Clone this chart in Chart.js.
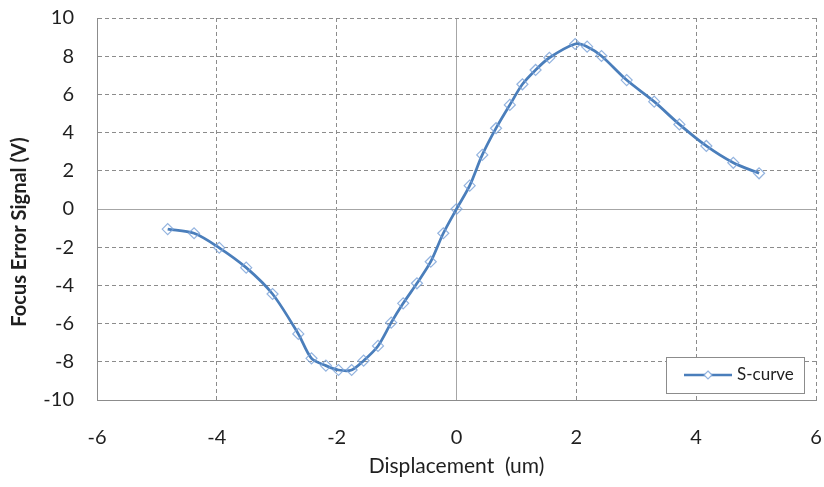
<!DOCTYPE html>
<html lang="en">
    <head>
        <meta charset="UTF-8" />
        <title>S-curve</title>
        <script src="https://cdn.jsdelivr.net/npm/chart.js"></script>
        <style>
            html, body { margin: 0; padding: 0; background: #fff; }
            #wrap { width: 824px; height: 487px; }
        </style>
    </head>
    <body>
        <div id="wrap"><canvas id="sCurveChart"></canvas></div>
        <script>
            // displacement (um) and focus error signal (V)
            const displacement = [-4.82, -4.38, -3.96, -3.51, -3.07, -2.64, -2.42, -2.18, -1.97, -1.75,
                -1.55, -1.31, -1.09, -0.89, -0.66, -0.43, -0.22, 0, 0.22, 0.43,
                0.66, 0.89, 1.1, 1.32, 1.55, 1.98, 2.18, 2.42, 2.84, 3.3,
                3.72, 4.17, 4.62, 5.05];
            const focusError = [-1.05, -1.27, -2.03, -3.07, -4.45, -6.54, -7.82, -8.2, -8.43, -8.43,
                -7.94, -7.17, -5.95, -4.94, -3.89, -2.76, -1.27, 0, 1.22, 2.83,
                4.23, 5.45, 6.53, 7.28, 7.92, 8.64, 8.5, 8.01, 6.75, 5.62,
                4.43, 3.3, 2.42, 1.87];
            const seriesName = "S-curve";
            const xTitle = "Displacement  (um)";
            const yTitle = "Focus Error Signal (V)";

            const lineColor = "#4a7ebb";
            const markerColor = "rgba(120,160,215,0.8)";
            const textColor = "#1f1f1f";
            const fontFamily = "Lato, 'Open Sans', sans-serif";

            // legend box inside the plot (bottom right) and the bold y title,
            // which sits a bit below the middle of the axis like in the original
            const extras = {
                id: "extras",
                afterDraw(chart) {
                    const { ctx, chartArea } = chart;
                    ctx.save();
                    ctx.translate(20, (chartArea.top + chartArea.bottom) / 2 + 23);
                    ctx.rotate(-Math.PI / 2);
                    ctx.fillStyle = textColor;
                    ctx.font = "bold 20px " + fontFamily;
                    ctx.textAlign = "center";
                    ctx.textBaseline = "middle";
                    ctx.fillText(yTitle, 0, 0);
                    ctx.restore();

                    const w = 138, h = 36;
                    const x = chartArea.right - 12 - w;
                    const y = chartArea.bottom - 7 - h;
                    ctx.save();
                    ctx.fillStyle = "#fff";
                    ctx.fillRect(x, y, w, h);
                    ctx.strokeStyle = "#8c8c8c";
                    ctx.lineWidth = 1;
                    ctx.strokeRect(x + 0.5, y + 0.5, w, h);
                    const cy = y + h / 2;
                    ctx.strokeStyle = lineColor;
                    ctx.lineWidth = 2.5;
                    ctx.beginPath();
                    ctx.moveTo(x + 18, cy);
                    ctx.lineTo(x + 66, cy);
                    ctx.stroke();
                    ctx.strokeStyle = markerColor;
                    ctx.lineWidth = 1.2;
                    ctx.beginPath();
                    ctx.moveTo(x + 42, cy - 4);
                    ctx.lineTo(x + 46, cy);
                    ctx.lineTo(x + 42, cy + 4);
                    ctx.lineTo(x + 38, cy);
                    ctx.closePath();
                    ctx.fillStyle = "#fff";
                    ctx.fill();
                    ctx.stroke();
                    ctx.fillStyle = textColor;
                    ctx.font = "17px " + fontFamily;
                    ctx.textAlign = "left";
                    ctx.textBaseline = "middle";
                    ctx.fillText(seriesName, x + 71, cy);
                    ctx.restore();
                },
            };

            const gridDash = (c) => (c.tick && c.tick.value === 0 ? [] : [4, 3]);
            const gridColor = (c) => (c.tick && c.tick.value === 0 ? "#a6a6a6" : "#8c8c8c");

            new Chart(document.getElementById("sCurveChart"), {
                type: "line",
                data: {
                    datasets: [
                        {
                            label: seriesName,
                            data: displacement.map((d, i) => ({ x: d, y: focusError[i] })),
                            borderColor: lineColor,
                            borderWidth: 2.75,
                            tension: 0.3,
                            pointStyle: "rectRot",
                            pointRadius: 5.5,
                            pointBorderWidth: 1.2,
                            pointBorderColor: markerColor,
                            pointBackgroundColor: "rgba(255,255,255,0)",
                            fill: false,
                        },
                    ],
                },
                options: {
                    responsive: true,
                    maintainAspectRatio: false,
                    animation: false,
                    layout: { padding: { top: 18, right: 8, left: 0, bottom: 0 } },
                    plugins: {
                        legend: { display: false },
                        tooltip: { enabled: false },
                    },
                    scales: {
                        x: {
                            type: "linear",
                            min: -6,
                            max: 6,
                            ticks: {
                                stepSize: 2,
                                padding: 26,
                                color: textColor,
                                font: { family: fontFamily, size: 20 },
                            },
                            grid: { color: gridColor, drawTicks: false },
                            border: { dash: gridDash, color: "#8c8c8c" },
                            title: {
                                display: true,
                                text: xTitle,
                                color: textColor,
                                font: { family: fontFamily, size: 21 },
                                padding: { top: 4, bottom: 8 },
                            },
                            afterFit: (s) => {
                                s.height = 87;
                                s.paddingLeft = 0;
                                s.paddingRight = 0;
                            },
                        },
                        y: {
                            min: -10,
                            max: 10,
                            ticks: {
                                stepSize: 2,
                                padding: 23,
                                color: textColor,
                                font: { family: fontFamily, size: 20 },
                            },
                            grid: { color: gridColor, drawTicks: false },
                            border: { dash: gridDash, color: "#8c8c8c" },
                            afterFit: (s) => {
                                s.width = 97;
                                s.paddingTop = 0;
                                s.paddingBottom = 0;
                            },
                        },
                    },
                },
                plugins: [extras],
            });
        </script>
    </body>
</html>
